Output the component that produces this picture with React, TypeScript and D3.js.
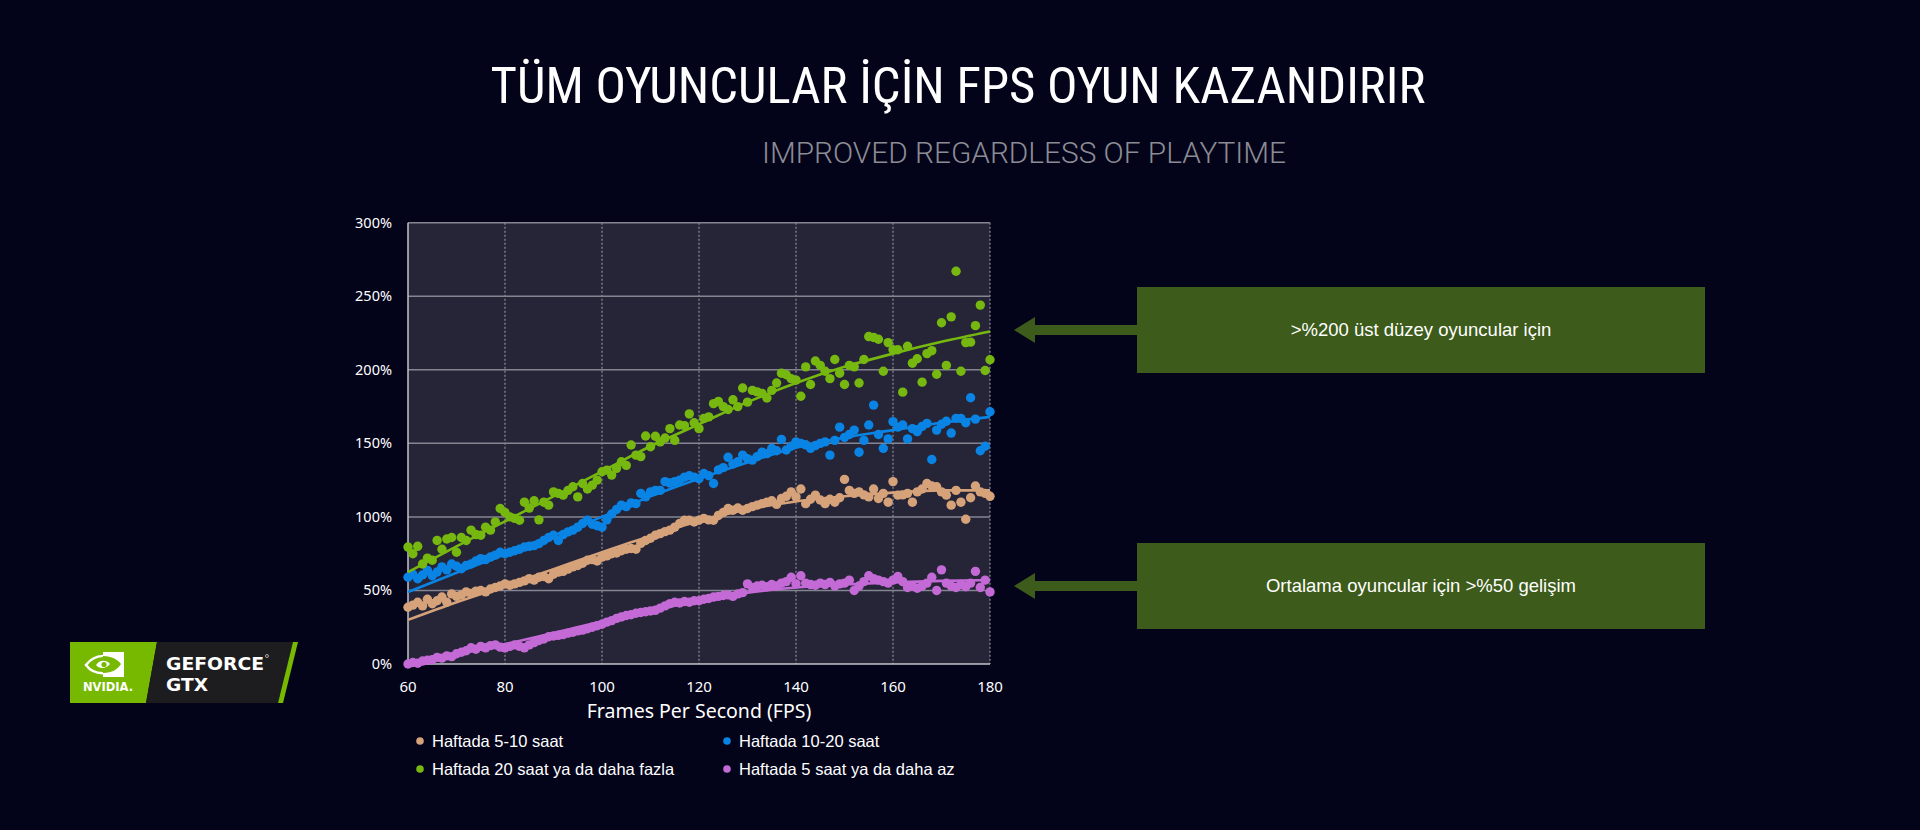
import React from 'react';
import * as d3 from 'd3';

// scatter points: [fps, % improvement]
const lowPlay: [number, number][] = [
  [60, 0], [61, 1], [62, 0.5], [63, 2], [64, 2.5], [65, 3], [66, 4.5], [67, 4], [68, 5.5], [69, 5],
  [70, 7], [71, 8], [72, 9], [73, 11], [74, 10], [75, 12], [76, 11], [77, 12.5], [78, 13], [79, 11.5],
  [80, 11], [81, 12], [82, 13], [83, 12], [84, 11], [85, 13], [86, 14.5], [87, 16], [88, 17], [89, 18.5],
  [90, 19], [91, 19.5], [92, 20], [93, 21], [94, 21.6], [95, 22.5], [96, 23], [97, 24], [98, 25], [99, 26],
  [100, 27], [101, 28.5], [102, 29.5], [103, 31], [104, 32], [105, 33], [106, 33.5], [107, 34.5], [108, 35], [109, 35.5],
  [110, 36], [111, 36.5], [112, 38], [113, 39.5], [114, 41], [115, 42], [116, 41.5], [117, 42.5], [118, 42], [119, 43],
  [120, 43], [121, 44], [122, 44.5], [123, 45.5], [124, 46], [125, 46.6], [126, 47], [127, 46], [128, 47.7], [129, 48.5],
  [130, 54.5], [131, 52], [132, 53], [133, 53.5], [134, 52.5], [135, 54], [136, 53], [137, 55], [138, 56], [139, 59],
  [140, 54.5], [141, 60], [142, 55], [143, 54], [144, 53.5], [145, 55], [146, 54], [147, 55.5], [148, 53], [149, 54.5],
  [150, 55], [151, 57], [152, 50], [153, 53], [154, 56], [155, 60], [156, 58], [157, 57], [158, 56], [159, 55],
  [160, 57], [161, 59.5], [162, 56], [163, 52], [164, 53], [165, 51.5], [166, 53], [167, 55], [168, 59], [169, 50],
  [170, 64], [171, 55], [172, 53], [173, 52], [174, 54], [175, 52.5], [176, 55], [177, 63], [178, 52], [179, 57], [180, 49],
];

const midPlay: [number, number][] = [
  [60, 38.6], [61, 40], [62, 42], [63, 39.5], [64, 44], [65, 41], [66, 43], [67, 45.5], [68, 42], [69, 47.7],
  [70, 46], [71, 47], [72, 49], [73, 48], [74, 49.5], [75, 50], [76, 49], [77, 51], [78, 52], [79, 53],
  [80, 54.5], [81, 53.5], [82, 54.5], [83, 55.5], [84, 56.5], [85, 58], [86, 57], [87, 59], [88, 59.5], [89, 58],
  [90, 61], [91, 62.5], [92, 63], [93, 64.5], [94, 66], [95, 67], [96, 68.5], [97, 70.5], [98, 71], [99, 70],
  [100, 72.7], [101, 73.5], [102, 75], [103, 75.5], [104, 77], [105, 78], [106, 78.5], [107, 78], [108, 82], [109, 84],
  [110, 85.5], [111, 87.5], [112, 88.6], [113, 90], [114, 91], [115, 93], [116, 95.5], [117, 97.7], [118, 97.7], [119, 96.5],
  [120, 97.7], [121, 99], [122, 98], [123, 97.7], [124, 101], [125, 103], [126, 105.7], [127, 104.5], [128, 106], [129, 104.5],
  [130, 105.7], [131, 107], [132, 108], [133, 109], [134, 110], [135, 111], [136, 108.5], [137, 112.5], [138, 114], [139, 117],
  [140, 113.6], [141, 119], [142, 109], [143, 112], [144, 114.8], [145, 111.5], [146, 109], [147, 112], [148, 110], [149, 113],
  [150, 125.5], [151, 118], [152, 116], [153, 117], [154, 115], [155, 113.6], [156, 119], [157, 112.5], [158, 116], [159, 110],
  [160, 124], [161, 114.8], [162, 115], [163, 116], [164, 110], [165, 117], [166, 119], [167, 122.7], [168, 121], [169, 120.5],
  [170, 117], [171, 114.8], [172, 108], [173, 118], [174, 110], [175, 98.4], [176, 113], [177, 121], [178, 117], [179, 116], [180, 114],
];

const highPlay: [number, number][] = [
  [60, 59], [61, 61], [62, 58], [63, 60.5], [64, 63.6], [65, 60], [66, 62.5], [67, 66], [68, 64], [69, 68],
  [70, 66.5], [71, 64.8], [72, 67], [73, 68], [74, 70], [75, 71.6], [76, 71], [77, 72.7], [78, 74], [79, 76],
  [80, 75], [81, 76], [82, 77], [83, 78], [84, 79.5], [85, 80], [86, 80.5], [87, 81.8], [88, 84], [89, 86],
  [90, 87.5], [91, 84], [92, 88], [93, 89.8], [94, 91], [95, 93], [96, 95.5], [97, 97.7], [98, 95], [99, 94],
  [100, 93], [101, 98], [102, 102], [103, 105], [104, 108], [105, 107], [106, 109.5], [107, 109], [108, 116], [109, 113.6],
  [110, 117], [111, 118], [112, 118], [113, 124], [114, 123], [115, 124], [116, 125], [117, 127], [118, 128], [119, 127],
  [120, 126], [121, 129.5], [122, 128], [123, 122.7], [124, 132], [125, 133.5], [126, 140.5], [127, 136], [128, 137.5], [129, 142],
  [130, 139.5], [131, 138.6], [132, 141], [133, 144], [134, 143], [135, 146.6], [136, 145], [137, 152.7], [138, 145.5], [139, 148],
  [140, 151], [141, 150], [142, 149], [143, 146.6], [144, 148.5], [145, 150], [146, 151], [147, 142], [148, 152], [149, 161],
  [150, 154], [151, 156], [152, 159], [153, 144], [154, 152], [155, 162.5], [156, 176], [157, 156], [158, 146.6], [159, 153],
  [160, 164.8], [161, 161], [162, 162.5], [163, 153], [164, 160], [165, 158], [166, 161.5], [167, 163.6], [168, 139], [169, 159],
  [170, 163], [171, 165], [172, 157], [173, 167], [174, 167], [175, 164], [176, 181], [177, 166.5], [178, 145], [179, 148], [180, 171.5],
];

const topPlay: [number, number][] = [
  [60, 79.5], [61, 75], [62, 80], [63, 68], [64, 72], [65, 70.5], [66, 84], [67, 78], [68, 85], [69, 86],
  [70, 76], [71, 86], [72, 84], [73, 91], [74, 88], [75, 87.5], [76, 93], [77, 91], [78, 96.6], [79, 105.7],
  [80, 103], [81, 100], [82, 99], [83, 97.7], [84, 110], [85, 106], [86, 111], [87, 98], [88, 110], [89, 108],
  [90, 117], [91, 116], [92, 114.8], [93, 118], [94, 120.5], [95, 113.6], [96, 122.7], [97, 119], [98, 121.6], [99, 125],
  [100, 130.7], [101, 131.8], [102, 128.4], [103, 133], [104, 137.5], [105, 135], [106, 148.9], [107, 142], [108, 141], [109, 155],
  [110, 147.7], [111, 154.8], [112, 151], [113, 153.6], [114, 160], [115, 152], [116, 162.5], [117, 162], [118, 170], [119, 164],
  [120, 160], [121, 167], [122, 168], [123, 177], [124, 178.5], [125, 175], [126, 173], [127, 179.6], [128, 175], [129, 187.6],
  [130, 178], [131, 186], [132, 185], [133, 184], [134, 180.8], [135, 186], [136, 191], [137, 197.7], [138, 196.6], [139, 194],
  [140, 193], [141, 182], [142, 202], [143, 190], [144, 206], [145, 203], [146, 199], [147, 194], [148, 207], [149, 197.7],
  [150, 190], [151, 203], [152, 202], [153, 191], [154, 207], [155, 222.6], [156, 222], [157, 220.8], [158, 199], [159, 218.5],
  [160, 213.6], [161, 213.6], [162, 184.8], [163, 216], [164, 204.5], [165, 207.5], [166, 191.6], [167, 211], [168, 213], [169, 197],
  [170, 232], [171, 203], [172, 236], [173, 267], [174, 199], [175, 218.5], [176, 218.8], [177, 230], [178, 244], [179, 199.5], [180, 206.8],
];

// fitted trend lines, read at every 10 fps
const lowTrend: [number, number][] = [
  [60, 0], [70, 6.5], [80, 13.5], [90, 21], [100, 29], [110, 36], [120, 43], [130, 48.5], [140, 52], [150, 54], [160, 55.5], [170, 56.5], [180, 57],
];
const midTrend: [number, number][] = [
  [60, 30], [70, 42], [80, 53], [90, 64.5], [100, 76], [110, 87], [120, 97], [130, 105], [140, 110.5], [150, 114], [160, 116.5], [170, 118], [180, 118],
];
const highTrend: [number, number][] = [
  [60, 49], [70, 62], [80, 74.5], [90, 87.5], [100, 100], [110, 114], [120, 126], [130, 137], [140, 147], [150, 154], [160, 159], [170, 164], [180, 168],
];
const topTrend: [number, number][] = [
  [60, 62.5], [70, 80], [80, 97], [90, 114], [100, 131], [110, 148], [120, 163], [130, 178], [140, 191], [150, 202], [160, 211], [170, 219], [180, 226],
];

const xTicks = [60, 80, 100, 120, 140, 160, 180];
const yTicks = [0, 50, 100, 150, 200, 250, 300];

const seriesNames = [
  'Haftada 5-10 saat',
  'Haftada 10-20 saat',
  'Haftada 20 saat ya da daha fazla',
  'Haftada 5 saat ya da daha az',
];

const title = 'TÜM OYUNCULAR İÇİN FPS OYUN KAZANDIRIR';
const subtitle = 'IMPROVED REGARDLESS OF PLAYTIME';
const callouts = ['>%200 üst düzey oyuncular için', 'Ortalama oyuncular için >%50 gelişim'];

const TAN = '#d6a27a';
const BLUE = '#0a84e4';
const GREEN = '#76b80f';
const PURPLE = '#c46ad6';
const BOX = '#3d5b1a';

export default function App() {
  const plot = { left: 408, right: 990, top: 222.7, bottom: 664 };

  const x = d3.scaleLinear().domain([60, 180]).range([plot.left, plot.right]);
  const y = d3.scaleLinear().domain([0, 300]).range([plot.bottom, plot.top]);

  const line = d3
    .line<[number, number]>()
    .x((d) => x(d[0]))
    .y((d) => y(d[1]))
    .curve(d3.curveMonotoneX);

  const series = [
    { pts: lowPlay, trend: lowTrend, color: PURPLE },
    { pts: midPlay, trend: midTrend, color: TAN },
    { pts: highPlay, trend: highTrend, color: BLUE },
    { pts: topPlay, trend: topTrend, color: GREEN },
  ];

  const legendColors = [TAN, BLUE, GREEN, PURPLE];
  const chartFont = '"Noto Sans", "Open Sans", sans-serif';
  const boxFont = '"Liberation Sans", Arial, sans-serif';

  return (
    <svg
      width={1920}
      height={830}
      style={{ position: 'absolute', left: 0, top: 0, display: 'block' }}
    >
      <rect width={1920} height={830} fill="#03031a" />

      {/* headings */}
      <text
        x={958}
        y={103}
        textAnchor="middle"
        fill="#ffffff"
        fontFamily='"Roboto Condensed", "DejaVu Sans Condensed", Roboto, sans-serif'
        fontSize={50}
        textLength={935}
        lengthAdjust="spacingAndGlyphs"
      >
        {title}
      </text>
      <text
        x={1024}
        y={163}
        textAnchor="middle"
        fill="#8c8c94"
        fontFamily='Roboto, "Open Sans", sans-serif'
        fontWeight={300}
        fontSize={29}
        textLength={524}
        lengthAdjust="spacingAndGlyphs"
      >
        {subtitle}
      </text>

      {/* plot area */}
      <rect
        x={plot.left}
        y={plot.top}
        width={plot.right - plot.left}
        height={plot.bottom - plot.top}
        fill="#262538"
      />
      {xTicks.slice(1).map((t) => (
        <line
          key={'vx' + t}
          x1={x(t)}
          x2={x(t)}
          y1={plot.top}
          y2={plot.bottom}
          stroke="#8e8e9c"
          strokeWidth={1.2}
          strokeDasharray="2 2"
        />
      ))}
      {yTicks.slice(1).map((t) => (
        <line
          key={'hy' + t}
          x1={plot.left}
          x2={plot.right}
          y1={y(t)}
          y2={y(t)}
          stroke="#858592"
          strokeWidth={1.5}
        />
      ))}
      <line x1={plot.left} x2={plot.left} y1={plot.top} y2={plot.bottom} stroke="#c4c4cc" strokeWidth={1.5} />
      <line x1={plot.left} x2={plot.right} y1={plot.bottom} y2={plot.bottom} stroke="#c4c4cc" strokeWidth={1.5} />

      {yTicks.map((t) => (
        <text
          key={'yl' + t}
          x={392}
          y={y(t) + 5}
          textAnchor="end"
          fill="#ffffff"
          fontFamily={chartFont}
          fontSize={14.5}
        >
          {t + '%'}
        </text>
      ))}
      {xTicks.map((t) => (
        <text
          key={'xl' + t}
          x={x(t)}
          y={692}
          textAnchor="middle"
          fill="#ffffff"
          fontFamily={chartFont}
          fontSize={15}
        >
          {t}
        </text>
      ))}
      <text
        x={(plot.left + plot.right) / 2}
        y={718}
        textAnchor="middle"
        fill="#ffffff"
        fontFamily={chartFont}
        fontSize={19.5}
      >
        Frames Per Second (FPS)
      </text>

      {/* data */}
      {series.map((s, i) => (
        <g key={'s' + i}>
          {s.pts.map((d, j) => (
            <circle key={j} cx={x(d[0])} cy={y(d[1])} r={4.7} fill={s.color} />
          ))}
        </g>
      ))}
      {series.map((s, i) => (
        <path key={'t' + i} d={line(s.trend) || ''} fill="none" stroke={s.color} strokeWidth={2.6} />
      ))}

      {/* legend */}
      {seriesNames.map((name, i) => {
        const col = i % 2;
        const row = Math.floor(i / 2);
        const lx = col === 0 ? 420 : 727;
        const ly = row === 0 ? 741 : 769;
        return (
          <g key={'lg' + i}>
            <circle cx={lx} cy={ly} r={3.8} fill={legendColors[i]} />
            <text x={lx + 12} y={ly + 5.5} fill="#ffffff" fontFamily={boxFont} fontSize={16.5}>
              {name}
            </text>
          </g>
        );
      })}

      {/* callouts */}
      {callouts.map((txt, i) => {
        const top = i === 0 ? 287 : 543;
        const cy = top + 43;
        return (
          <g key={'co' + i}>
            <rect x={1137} y={top} width={568} height={86} fill={BOX} />
            <rect x={1034} y={cy - 5} width={104} height={10} fill={BOX} />
            <polygon points={`1014,${cy} 1035,${cy - 13} 1035,${cy + 13}`} fill={BOX} />
            <text
              x={1421}
              y={cy + 6}
              textAnchor="middle"
              fill="#ffffff"
              fontFamily={boxFont}
              fontSize={18.5}
            >
              {txt}
            </text>
          </g>
        );
      })}

      {/* GeForce GTX badge */}
      <g>
        <polygon points="70,642 157,642 146,703 70,703" fill="#76b900" />
        <polygon points="157,642 293,642 278,703 146,703" fill="#1d1d1f" />
        <polygon points="293,642 298,642 283,703 278,703" fill="#76b900" />
        <rect x={103} y={652} width={21} height={25} fill="#ffffff" />
        <path
          d="M86,665 C94,654 112,652 121,664 C112,676 94,676 86,665 Z"
          fill="none"
          stroke="#ffffff"
          strokeWidth={2.5}
        />
        <path d="M103,656 C112,656 118,660 121,664 C118,669 112,673 103,673 Z" fill="#76b900" />
        <path d="M96,665 C99,660 106,659 110,664 C106,669 99,669 96,665 Z" fill="#ffffff" />
        <circle cx={104} cy={664.5} r={2.6} fill="#76b900" />
        <text
          x={83}
          y={691}
          fill="#ffffff"
          fontFamily='"DejaVu Sans", sans-serif'
          fontWeight="bold"
          fontSize={12}
          textLength={50}
          lengthAdjust="spacingAndGlyphs"
        >
          NVIDIA.
        </text>
        <text
          x={166}
          y={670}
          fill="#ffffff"
          fontFamily='"DejaVu Sans", sans-serif'
          fontWeight="bold"
          fontSize={17.5}
          textLength={98}
          lengthAdjust="spacingAndGlyphs"
        >
          GEFORCE
        </text>
        <text
          x={166}
          y={691}
          fill="#ffffff"
          fontFamily='"DejaVu Sans", sans-serif'
          fontWeight="bold"
          fontSize={17.5}
          textLength={42}
          lengthAdjust="spacingAndGlyphs"
        >
          GTX
        </text>
        <circle cx={267} cy={656} r={1.5} fill="none" stroke="#ffffff" strokeWidth={0.6} />
      </g>
    </svg>
  );
}
